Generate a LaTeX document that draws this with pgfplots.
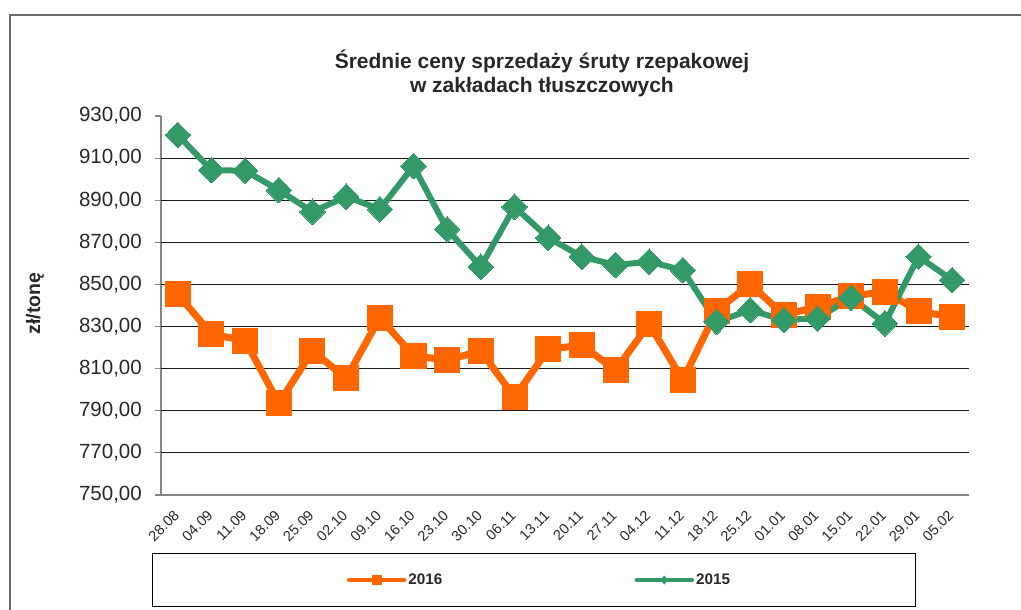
\documentclass[border=0pt]{standalone}
\usepackage{fontspec}
\setmainfont{Liberation Sans}
\usepackage{pgfplots}
\pgfplotsset{compat=1.18}
\definecolor{orng}{RGB}{255,102,0}
\definecolor{grn}{RGB}{51,153,102}
\definecolor{txt}{RGB}{40,40,40}
\definecolor{axgray}{RGB}{134,134,134}
\begin{document}
\begin{tikzpicture}[x=1pt,y=1pt]
\useasboundingbox (0,0) rectangle (1021,610);
% outer frame (partially visible)
\draw[axgray!80!black, line width=1.2pt] (10,0) -- (10,595) -- (1021,595);
% legend frame
\draw[black, line width=1pt] (152.7,56) rectangle (915.7,3);
\begin{axis}[
  at={(161pt,115pt)}, anchor=south west,
  scale only axis, width=808pt, height=379pt,
  xmin=-0.5, xmax=23.5, ymin=750, ymax=930,
  clip=false,
  axis x line*=bottom, axis y line*=left,
  axis line style={axgray, line width=1.5pt},
  tick align=outside,
  ytick={750,770,...,930},
  major tick length=6pt,
  minor tick length=5pt,
  tick style={axgray, line width=1.2pt},
  xtick={0,...,23},
  xtick style={draw=none},
  minor xtick={-0.5,0.5,...,23.5},
  xticklabels={28.08,04.09,11.09,18.09,25.09,02.10,09.10,16.10,23.10,30.10,06.11,13.11,20.11,27.11,04.12,11.12,18.12,25.12,01.01,08.01,15.01,22.01,29.01,05.02},
  xticklabel style={xshift=-5pt, yshift=-8pt, rotate=45, anchor=north east, inner sep=0pt, font=\fontsize{14.5}{17}\selectfont, text=txt},
  yticklabel style={font=\fontsize{20.5}{24}\selectfont, text=txt, inner sep=0pt, xshift=-13pt,
    /pgf/number format/fixed, /pgf/number format/fixed zerofill, /pgf/number format/precision=2,
    /pgf/number format/use comma, /pgf/number format/1000 sep={}, /pgf/number format/assume math mode=true},
  extra y ticks={770,790,...,910},
  extra y tick labels={},
  extra y tick style={grid=major, major grid style={black!90, line width=1.2pt}},
  ylabel={zł/tonę},
  ylabel style={at={(axis description cs:-0.156,0.505)}, anchor=center, rotate=0, font=\bfseries\fontsize{19.5}{23}\selectfont, text=txt},
  title={Średnie ceny sprzedaży śruty rzepakowej\\w zakładach tłuszczowych},
  title style={at={(axis description cs:0.4715,1.0963)}, anchor=center, align=center, font=\bfseries\fontsize{21}{24}\selectfont, text=txt},
  legend columns=2,
  legend style={at={(axis description cs:0.2298,-0.2243)}, anchor=west, draw=none, fill=none, inner sep=0pt, nodes={inner xsep=2pt, inner ysep=0pt}, font=\bfseries\fontsize{15.3}{18}\selectfont, text=txt,
    /tikz/every even column/.append style={column sep=190pt}},
]
\addplot[orng, line width=7pt, mark=square*, mark size=12.5pt, mark options={solid, line width=0pt},
  legend image code/.code={\draw[orng, line width=4.6pt, line cap=round] (0pt,0pt) -- (55pt,0pt); \fill[orng, draw=none, line width=0pt] (22.5pt,-5pt) rectangle (32.5pt,5pt);}]
  coordinates {(0,845.3)(1,826.4)(2,823.3)(3,793.5)(4,818.5)(5,805.4)(6,834.2)(7,816.1)(8,814.1)(9,818.4)(10,796.4)(11,819.2)(12,821.2)(13,809.3)(14,831.2)(15,804.6)(16,837.4)(17,850.2)(18,835.5)(19,839.4)(20,844.5)(21,846.5)(22,837.4)(23,834.4)};
\addlegendentry{2016}
\addplot[grn, line width=6pt, mark=diamond*, mark size=12.8pt, mark options={solid, line width=0pt, xscale=1.33},
  legend image code/.code={\draw[grn, line width=4.6pt, line cap=round] (0pt,0pt) -- (55pt,0pt); \fill[grn, draw=none, line width=0pt] (27.5pt,4.5pt) -- (31.5pt,0pt) -- (27.5pt,-4.5pt) -- (23.5pt,0pt) -- cycle;}]
  coordinates {(0,921)(1,904.3)(2,904)(3,894.8)(4,884.5)(5,891.7)(6,885.7)(7,906.2)(8,876.2)(9,858.4)(10,886.9)(11,872.2)(12,863.2)(13,859.2)(14,860.8)(15,856.8)(16,832.3)(17,837.8)(18,833.1)(19,833.9)(20,843.7)(21,831.5)(22,863.2)(23,852.1)};
\addlegendentry{2015}
\end{axis}
\end{tikzpicture}
\end{document}
